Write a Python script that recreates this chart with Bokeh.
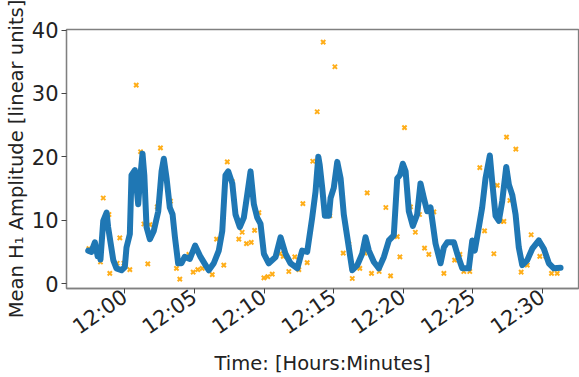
import math
from bokeh.plotting import figure
from bokeh.models import FixedTicker, Range1d
from bokeh.embed import file_html
from bokeh.resources import INLINE

# time in minutes after 12:00
line_t = [-2.63, -2.4, -2.15, -1.95, -1.85, -1.75, -1.55, -1.31, -1.2, -0.83, -0.6, -0.24, 0.0,
          0.12, 0.36, 0.48, 0.72, 0.96, 1.08, 1.27, 1.4, 1.56, 1.8, 2.08, 2.4, 2.64, 2.8, 3.0,
          3.23, 3.43, 3.6, 3.83, 4.07, 4.3, 4.67, 5.05, 5.44, 5.8, 6.03, 6.39, 6.75, 7.0, 7.23,
          7.43, 7.72, 7.95, 8.26, 8.55, 8.79, 9.03, 9.27, 9.51, 9.75, 9.99, 10.34, 10.83, 11.19,
          11.54, 11.9, 12.39, 12.74, 13.1, 13.46, 13.7, 13.9, 14.0, 14.18, 14.37, 14.66, 14.78,
          15.01, 15.26, 15.5, 15.73, 15.98, 16.34, 16.7, 17.05, 17.29, 17.53, 17.89, 18.25,
          18.61, 18.97, 19.32, 19.57, 19.76, 19.97, 20.17, 20.4, 20.69, 21.0, 21.24, 21.48,
          21.72, 21.96, 22.32, 22.68, 22.92, 23.16, 23.64, 23.88, 24.24, 24.71, 24.96, 25.14,
          25.43, 25.67, 25.91, 26.22, 26.39, 26.63, 26.87, 27.11, 27.4, 27.59, 27.83, 28.07,
          28.3, 28.55, 28.91, 29.27, 29.74, 30.1, 30.46, 30.82, 31.3]
line_v = [5.2, 5.0, 6.5, 4.3, 5.4, 3.8, 9.9, 11.2, 8.9, 3.7, 2.4, 2.1, 2.6,
          5.7, 7.8, 17.1, 17.9, 12.5, 16.1, 20.5, 17.1, 8.9, 7.0, 8.3, 11.4, 17.7, 19.7, 16.6,
          12.0, 10.9, 7.3, 3.2, 3.2, 4.2, 3.9, 6.0, 4.2, 2.9, 2.1, 3.2, 5.2, 8.3, 17.1,
          17.7, 15.8, 10.9, 8.9, 10.4, 14.0, 17.7, 12.5, 10.4, 9.4, 4.7, 3.2, 4.2, 7.3,
          4.7, 3.2, 2.4, 5.2, 5.0, 10.4, 14.5, 20.0, 18.7, 15.1, 10.7, 10.7, 13.5,
          15.1, 19.2, 16.6, 10.9, 7.3, 2.1, 2.9, 4.7, 7.3, 5.2, 3.4, 2.4,
          4.2, 6.8, 7.6, 16.6, 17.1, 18.9, 17.7, 11.4, 9.1, 10.9, 15.8, 13.5,
          11.4, 12.0, 6.3, 3.2, 5.7, 6.5, 6.5, 4.7, 2.4, 2.4, 6.8, 5.2,
          8.9, 12.0, 16.6, 20.2, 16.1, 10.7, 9.9, 13.0, 18.4, 15.6, 14.0, 10.9,
          5.7, 2.9, 3.7, 5.5, 6.8, 5.5, 3.2, 2.4, 2.5]

pts_t = [-2.58, -1.75, -1.55, -1.14, -1.08, -0.55, -0.36, -0.07, 0.36, 0.82, 1.13, 1.37, 1.65,
         1.8, 2.33, 2.56, 3.28, 3.71, 3.95, 4.6, 4.91, 5.24, 5.56, 6.28, 6.59, 7.11, 7.36, 7.72,
         8.19, 8.43, 8.74, 9.08, 9.32, 9.63, 9.99, 10.27, 10.59, 11.14, 11.38, 11.78, 12.21,
         12.5, 12.79, 13.1, 13.5, 13.82, 14.25, 14.73, 15.09, 15.69, 16.1, 16.34, 16.88, 17.24,
         17.41, 17.72, 18.27, 18.75, 19.09, 19.57, 19.76, 20.09, 20.52, 20.87, 21.17, 21.53,
         21.84, 22.2, 22.92, 23.69, 24.07, 24.35, 24.78, 25.5, 25.84, 26.51, 26.75, 26.99,
         27.23, 27.42, 27.66, 28.09, 28.47, 28.91, 29.19, 29.81, 30.24, 30.65, 31.06]
pts_v = [5.5, 3.4, 13.5, 10.9, 1.6, 3.2, 7.2, 3.2, 2.2, 31.3, 20.8, 9.4, 3.1,
         9.3, 12.1, 21.4, 13.0, 2.4, 0.7, 4.6, 1.8, 2.2, 2.4, 1.4, 7.0, 2.9, 19.2, 16.1,
         7.0, 8.1, 6.3, 6.5, 8.4, 11.2, 0.9, 1.1, 1.5, 4.7, 4.3, 1.9, 4.2,
         2.2, 12.6, 3.3, 19.3, 27.1, 38.1, 10.7, 34.2, 4.8, 6.2, 0.8, 2.4, 4.8,
         14.3, 1.6, 1.9, 12.0, 1.2, 7.4, 4.2, 24.6, 12.1, 8.1, 10.9, 5.6,
         4.6, 11.3, 1.6, 3.7, 4.6, 1.9, 1.9, 18.3, 8.3, 4.7, 15.5, 9.8,
         9.8, 23.1, 13.1, 21.2, 1.8, 2.9, 7.7, 4.3, 4.3, 1.6, 1.6]

tick_minutes = [0, 5, 10, 15, 20, 25, 30]
tick_labels = ["12:00", "12:05", "12:10", "12:15", "12:20", "12:25", "12:30"]
y_ticks = [0, 10, 20, 30, 40]

FONT = "DejaVu Sans"
TXT = "#222222"
SPINE = "#808080"

p = figure(width=579, height=377, output_backend="svg", toolbar_location=None,
           x_range=Range1d(-4.19, 32.59), y_range=Range1d(-0.78, 40.08),
           min_border_left=66, min_border_right=1, min_border_top=29, min_border_bottom=85)

p.scatter(pts_t, pts_v, marker="x", size=6, line_width=2, color="orange", alpha=0.9)
p.line(line_t, line_v, line_width=6, color="#1f77b4", line_join="round", line_cap="round")

p.xgrid.visible = False
p.ygrid.visible = False
p.outline_line_color = SPINE
p.outline_line_width = 1.3

p.xaxis.ticker = FixedTicker(ticks=tick_minutes)
p.xaxis.major_label_overrides = {m: l for m, l in zip(tick_minutes, tick_labels)}
p.xaxis.major_label_orientation = math.radians(35)
p.yaxis.ticker = FixedTicker(ticks=y_ticks)

p.xaxis.axis_label = "Time: [Hours:Minutes]"
p.yaxis.axis_label = "Mean H\u2081 Amplitude [linear units]"

for ax in (p.xaxis[0], p.yaxis[0]):
    ax.axis_line_color = SPINE
    ax.axis_line_width = 1.3
    ax.major_tick_line_color = "#444444"
    ax.major_tick_out = 5
    ax.major_tick_in = 0
    ax.minor_tick_line_color = None
    ax.major_label_text_font = FONT
    ax.major_label_text_color = TXT
    ax.axis_label_text_font = FONT
    ax.axis_label_text_font_size = "19.5px"
    ax.axis_label_text_font_style = "normal"
    ax.axis_label_text_color = TXT

p.xaxis.major_label_standoff = 1
p.xaxis.axis_label_standoff = 0
p.yaxis.major_label_standoff = 3
p.yaxis.axis_label_standoff = 1
p.xaxis.major_label_text_font_size = "21px"
p.yaxis.major_label_text_font_size = "21px"

open("out.html", "w").write(file_html(p, INLINE))
